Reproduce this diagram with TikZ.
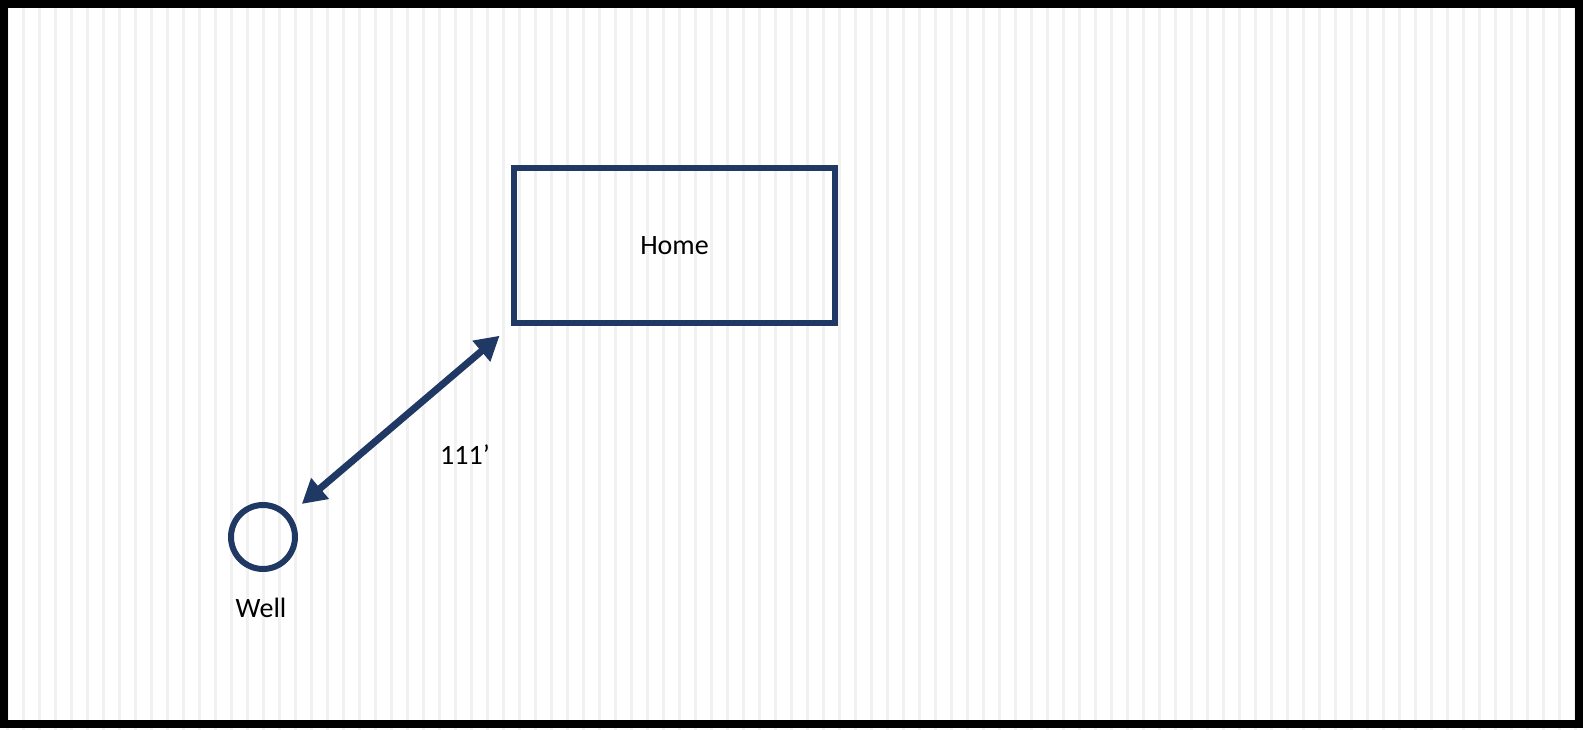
\documentclass[tikz,border=0pt]{standalone}
\usepackage{fontspec}
\setmainfont{Carlito}
\usetikzlibrary{arrows.meta}
\definecolor{navy}{HTML}{1F3864}
\definecolor{stripe}{HTML}{F1F1F1}
\begin{document}
\begin{tikzpicture}[x=1pt,y=-1pt,
  lbl/.style={font=\fontsize{28}{34}\selectfont, text=black},
  house/.style={draw=navy, line width=6pt, minimum width=321pt, minimum height=155pt, inner sep=0pt},
  wellring/.style={draw=navy, line width=6pt, circle, minimum size=64pt, inner sep=0pt},
  dist/.style={draw=navy, line width=7pt, {Triangle[length=24pt,width=26pt]}-{Triangle[length=24pt,width=26pt]}}]
  \useasboundingbox (0,0) rectangle (1583,730);
  \fill[white] (0,0) rectangle (1583,730);
  \foreach \x in {7,23,...,1583} {\draw[stripe, line width=3pt] (\x,0) -- (\x,730);}
  \draw[black, line width=8pt] (4,4) rectangle (1578.5,724);
  \node[house, lbl] (home) at (674.5,245.5) {Home};
  \node[wellring] (well) at (263,537) {};
  \node[lbl, anchor=center] (welllbl) at (261,608) {Well};
  \draw[dist, shorten <=51pt, shorten >=15pt] (well.center) -- (home.south west);
  \node[lbl] (dlbl) at (465,455) {111’};
\end{tikzpicture}
\end{document}
